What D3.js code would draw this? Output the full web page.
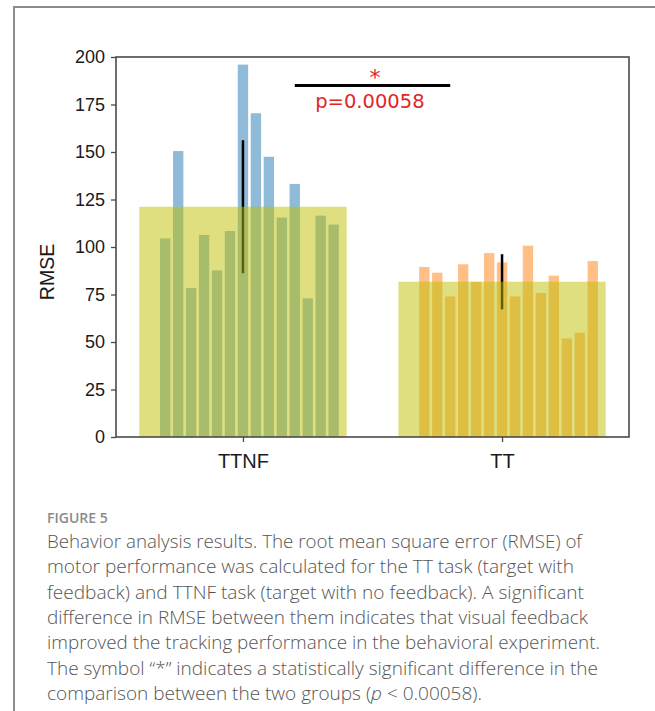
<!DOCTYPE html>
<html>
<head>
<meta charset="utf-8">
<script src="https://cdn.jsdelivr.net/npm/d3@7"></script>
<style>
  html, body { margin: 0; padding: 0; background: #fff; }
  svg { display: block; }
</style>
</head>
<body>
<svg id="chart" width="655" height="711"></svg>
<script>
// ---------------- data ----------------
const categories = ["TTNF", "TT"];
const groupMeans = [121.2, 81.7];
const groupErrors = [35.0, 14.5];
const subjectOffsets = [-0.30, -0.25, -0.20, -0.15, -0.10, -0.05, 0.00, 0.05, 0.10, 0.15, 0.20, 0.25, 0.30, 0.35];
const ttnfValues = [104.5, 150.5, 78.4, 106.3, 87.7, 108.4, 196.0, 170.4, 147.5, 115.5, 133.2, 73.0, 116.5, 111.8];
const ttValues = [89.5, 86.5, 74.0, 90.9, 81.7, 96.8, 91.9, 74.0, 100.7, 75.8, 84.9, 51.9, 54.9, 92.6];
const yTicks = [0, 25, 50, 75, 100, 125, 150, 175, 200];
const sigText = "p=0.00058";
const sigMark = "*";
const sigLevel = 185;
const sigSpan = [0.2, 0.8];
const figureLabel = "FIGURE 5";
const captionLines = [
  "Behavior analysis results. The root mean square error (RMSE) of",
  "motor performance was calculated for the TT task (target with",
  "feedback) and TTNF task (target with no feedback). A significant",
  "difference in RMSE between them indicates that visual feedback",
  "improved the tracking performance in the behavioral experiment.",
  "The symbol \u201c*\u201d indicates a statistically significant difference in the",
  "comparison between the two groups (<i>p</i> < 0.00058)."
];
const captionWidths = [535, 527, 537, 541, 553, 551, 435];

// ---------------- layout ----------------
const svg = d3.select("#chart");
const plot = { left: 116, right: 629, top: 57, bottom: 437 };
const x = d3.scaleLinear().domain([-0.49, 1.49]).range([plot.left, plot.right]);
const y = d3.scaleLinear().domain([0, 200]).range([plot.bottom, plot.top]);
const pxPerUnit = x(1) - x(0);

// frame around figure
svg.append("path")
  .attr("d", `M14,711 L14,7 L655,7`)
  .attr("fill", "none").attr("stroke", "#8c8c8c").attr("stroke-width", 2);

const seriesColors = ["#1f77b4", "#ff7f0e"];
const seriesValues = [ttnfValues, ttValues];

// individual subject bars
seriesValues.forEach((vals, gi) => {
  svg.append("g").selectAll("rect").data(vals).join("rect")
    .attr("x", (d, i) => x(gi + subjectOffsets[i] - 0.02))
    .attr("width", 0.04 * pxPerUnit)
    .attr("y", d => y(d))
    .attr("height", d => y(0) - y(d))
    .attr("fill", seriesColors[gi])
    .attr("fill-opacity", 0.5);
});

// error bars
svg.append("g").selectAll("line").data(groupMeans).join("line")
  .attr("x1", (d, i) => x(i)).attr("x2", (d, i) => x(i))
  .attr("y1", (d, i) => y(d - groupErrors[i]))
  .attr("y2", (d, i) => y(d + groupErrors[i]))
  .attr("stroke", "#000").attr("stroke-width", 2.5);

// mean bars
svg.append("g").selectAll("rect").data(groupMeans).join("rect")
  .attr("x", (d, i) => x(i - 0.4))
  .attr("width", 0.8 * pxPerUnit)
  .attr("y", d => y(d))
  .attr("height", d => y(0) - y(d))
  .attr("fill", "#bfbf00")
  .attr("fill-opacity", 0.5);

// axes box
const axisColor = "#4a4a4a";
svg.append("rect")
  .attr("x", plot.left).attr("y", plot.top)
  .attr("width", plot.right - plot.left).attr("height", plot.bottom - plot.top)
  .attr("fill", "none").attr("stroke", axisColor).attr("stroke-width", 1.6);

const yAxis = svg.append("g").attr("transform", `translate(${plot.left},0)`)
  .call(d3.axisLeft(y).tickValues(yTicks).tickSize(5).tickPadding(6));
yAxis.select(".domain").remove();
yAxis.selectAll(".tick line").attr("stroke", axisColor).attr("stroke-width", 1.3);
yAxis.selectAll(".tick text")
  .attr("font-family", "'Liberation Sans', Arial, sans-serif")
  .attr("font-size", 18).attr("fill", "#1a1a1a");

const xAxis = svg.append("g").attr("transform", `translate(0,${plot.bottom})`)
  .call(d3.axisBottom(x).tickValues([0, 1]).tickFormat(i => categories[i]).tickSize(5).tickPadding(12));
xAxis.select(".domain").remove();
xAxis.selectAll(".tick line").attr("stroke", axisColor).attr("stroke-width", 1.3);
xAxis.selectAll(".tick text")
  .attr("font-family", "'Liberation Sans', Arial, sans-serif")
  .attr("font-size", 20).attr("fill", "#1a1a1a");

// y label
svg.append("text")
  .attr("transform", `translate(54,272) rotate(-90)`)
  .attr("text-anchor", "middle")
  .attr("font-family", "'Liberation Sans', Arial, sans-serif")
  .attr("font-size", 19.5).attr("fill", "#1a1a1a")
  .text("RMSE");

// significance annotation
svg.append("line")
  .attr("x1", x(sigSpan[0])).attr("x2", x(sigSpan[1]))
  .attr("y1", y(sigLevel)).attr("y2", y(sigLevel))
  .attr("stroke", "#000").attr("stroke-width", 3);
svg.append("text")
  .attr("x", x(0.51)).attr("y", y(sigLevel) - 1)
  .attr("text-anchor", "middle")
  .attr("font-family", "'DejaVu Sans', sans-serif")
  .attr("font-size", 22).attr("fill", "#e0262b")
  .text(sigMark);
svg.append("text")
  .attr("x", x(0.49)).attr("y", 108)
  .attr("text-anchor", "middle")
  .attr("font-family", "'DejaVu Sans', sans-serif")
  .attr("font-size", 19.5).attr("fill", "#e0262b")
  .text(sigText);

// caption
svg.append("text")
  .attr("x", 47).attr("y", 523)
  .attr("font-family", "'Open Sans', sans-serif")
  .attr("font-weight", 600)
  .attr("font-size", 14).attr("fill", "#8a8a8a")
  .text(figureLabel);

const cap = svg.append("g")
  .attr("font-family", "'Open Sans', sans-serif")
  .attr("font-weight", 300)
  .attr("font-size", 18.5).attr("fill", "#555");
captionLines.forEach((line, i) => {
  const t = cap.append("text").attr("x", 47).attr("y", 548 + i * 25.3)
    .attr("textLength", captionWidths[i]).attr("lengthAdjust", "spacingAndGlyphs");
  const parts = line.split(/(<i>.*?<\/i>)/);
  parts.forEach(p => {
    if (p.startsWith("<i>")) t.append("tspan").attr("font-style", "italic").text(p.replace(/<\/?i>/g, ""));
    else if (p.length) t.append("tspan").text(p);
  });
});
</script>
</body>
</html>
